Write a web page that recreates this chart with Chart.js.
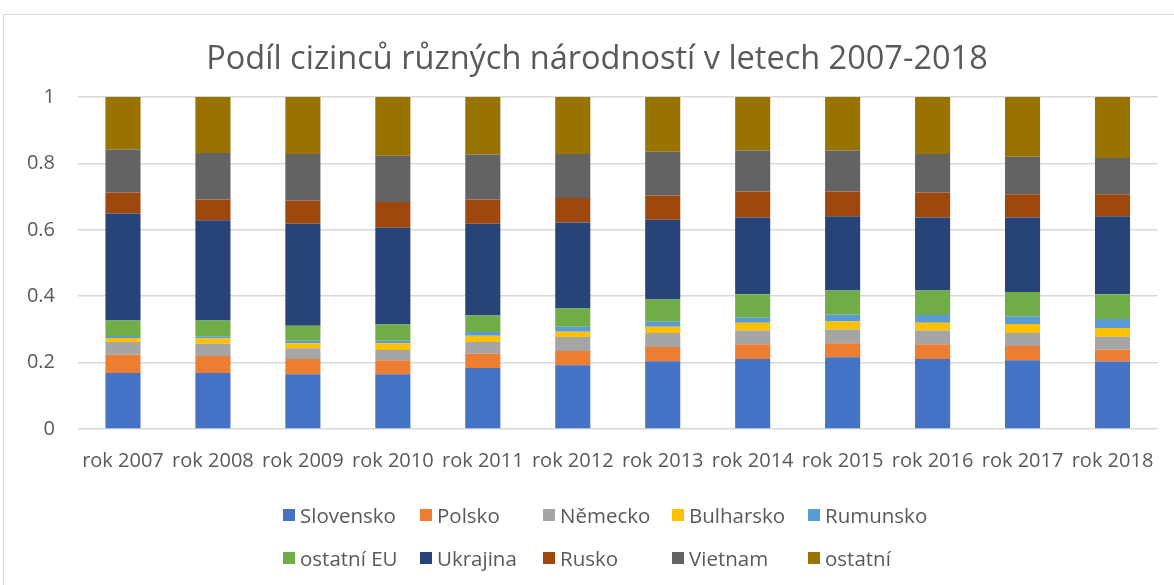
<!DOCTYPE html>
<html>
<head>
<meta charset="utf-8">
<script src="https://cdn.jsdelivr.net/npm/chart.js@4.4.1/dist/chart.umd.min.js"></script>
<style>
  html,body{margin:0;padding:0;background:#fff;}
  #wrap{position:relative;width:1174px;height:585px;overflow:hidden;font-family:'Open Sans',sans-serif;}
  #frame{position:absolute;left:3px;top:14px;width:1200px;height:620px;border:1.5px solid #d9d9d9;box-sizing:border-box;pointer-events:none;}
  #legend{position:absolute;left:0;top:0;width:1174px;height:585px;pointer-events:none;}
  .lg{position:absolute;display:flex;align-items:center;color:#595959;font-size:20.5px;white-space:nowrap;transform:translateY(-50%);}
  .lg i{display:inline-block;width:12px;height:12px;margin-right:5px;}
</style>
</head>
<body>
<div id="wrap">
  <canvas id="c" width="1174" height="585"></canvas>
  <div id="frame"></div>
  <div id="legend"></div>
</div>
<script>
const years = ['rok 2007','rok 2008','rok 2009','rok 2010','rok 2011','rok 2012','rok 2013','rok 2014','rok 2015','rok 2016','rok 2017','rok 2018'];
const yTickLabels = ['0','0.2','0.4','0.6','0.8','1'];
const titleText = 'Podíl cizinců různých národností v letech 2007-2018';

const slovensko = [0.169,0.169,0.165,0.165,0.184,0.192,0.204,0.211,0.216,0.211,0.207,0.203];
const polsko    = [0.055,0.051,0.046,0.042,0.043,0.043,0.043,0.044,0.042,0.044,0.043,0.036];
const nemecko   = [0.038,0.037,0.032,0.031,0.035,0.042,0.042,0.042,0.042,0.042,0.039,0.039];
const bulharsko = [0.012,0.016,0.015,0.020,0.019,0.016,0.019,0.023,0.024,0.023,0.027,0.026];
const rumunsko  = [0.006,0.006,0.008,0.008,0.011,0.015,0.015,0.015,0.020,0.023,0.023,0.027];
const ostatniEU = [0.047,0.048,0.045,0.049,0.050,0.055,0.067,0.071,0.073,0.074,0.074,0.075];
const ukrajina  = [0.322,0.302,0.307,0.291,0.276,0.259,0.240,0.231,0.224,0.220,0.224,0.235];
const rusko     = [0.063,0.062,0.070,0.078,0.073,0.074,0.073,0.078,0.074,0.075,0.070,0.066];
const vietnam   = [0.130,0.140,0.140,0.139,0.136,0.132,0.132,0.124,0.124,0.116,0.113,0.109];
const ostatni   = [0.158,0.169,0.172,0.177,0.173,0.172,0.165,0.161,0.161,0.172,0.180,0.184];

const series = [
  {label:'Slovensko', data:slovensko, color:'#4472C4'},
  {label:'Polsko',    data:polsko,    color:'#ED7D31'},
  {label:'Německo',   data:nemecko,   color:'#A5A5A5'},
  {label:'Bulharsko', data:bulharsko, color:'#FFC000'},
  {label:'Rumunsko',  data:rumunsko,  color:'#5B9BD5'},
  {label:'ostatní EU',data:ostatniEU, color:'#70AD47'},
  {label:'Ukrajina',  data:ukrajina,  color:'#264478'},
  {label:'Rusko',     data:rusko,     color:'#9E480E'},
  {label:'Vietnam',   data:vietnam,   color:'#636363'},
  {label:'ostatní',   data:ostatni,   color:'#997300'}
];

const FONT = "'Open Sans', sans-serif";
const TXT = '#595959';

// title centred on the chart frame, not on the canvas padding box
const frameTitle = {
  id:'frameTitle',
  afterDraw(chart){
    const ctx = chart.ctx;
    ctx.save();
    ctx.font = `32.5px ${FONT}`;
    ctx.fillStyle = TXT;
    ctx.textAlign = 'center';
    ctx.textBaseline = 'middle';
    ctx.fillText(titleText, 597, 60);
    ctx.restore();
  }
};

const chart = new Chart(document.getElementById('c'), {
  type:'bar',
  data:{
    labels:years,
    datasets:series.map(s=>({
      label:s.label,
      data:s.data,
      backgroundColor:s.color,
      borderWidth:0,
      barPercentage:1,
      categoryPercentage:0.39
    }))
  },
  options:{
    responsive:false,
    animation:false,
    layout:{padding:{left:4,right:16,top:97,bottom:100}},
    plugins:{
      legend:{display:false},
      tooltip:{enabled:false},
      title:{display:false}
    },
    scales:{
      x:{
        stacked:true,
        grid:{display:false,drawTicks:false},
        border:{display:false},
        ticks:{color:TXT,font:{family:FONT,size:20},padding:20,maxRotation:0,autoSkip:false},
        afterFit:(s)=>{ s.height = 56; }
      },
      y:{
        stacked:true,
        min:0,max:1,
        grid:{color:'#d9d9d9',lineWidth:1.5,drawTicks:false},
        border:{display:false},
        ticks:{
          stepSize:0.2,
          color:TXT,
          font:{family:FONT,size:20},
          padding:23,
          callback:(v,i)=>yTickLabels[i]
        },
        afterFit:(s)=>{ s.width = 74; }
      }
    }
  },
  plugins:[frameTitle]
});

// legend laid out like the excel grid
const legendCols = [283,420,543,672,808];
const legendRows = [515,558];
const lg = document.getElementById('legend');
series.forEach((s,i)=>{
  const d = document.createElement('div');
  d.className = 'lg';
  d.style.left = legendCols[i%5]+'px';
  d.style.top = legendRows[Math.floor(i/5)]+'px';
  d.innerHTML = `<i style="background:${s.color}"></i>${s.label}`;
  lg.appendChild(d);
});
</script>
</body>
</html>
